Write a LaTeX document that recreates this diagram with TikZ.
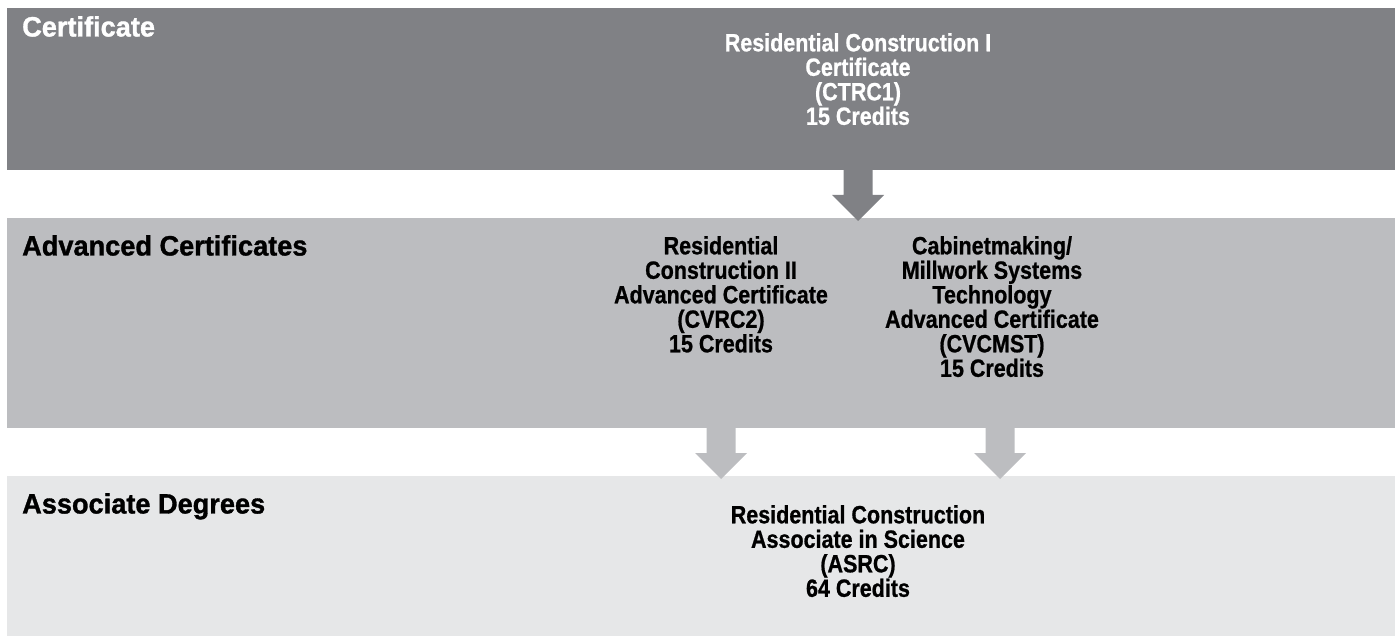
\documentclass[tikz,border=0pt]{standalone}
\usepackage{fontspec}
\setmainfont{Liberation Sans}
\newfontfamily\condfont{Liberation Sans}[FakeStretch=0.86,FakeBold=0.8]
\newfontfamily\headfont{Liberation Sans}[FakeStretch=0.97,FakeBold=1.2]
\usetikzlibrary{positioning}
\definecolor{darkband}{RGB}{128,129,133}
\definecolor{midband}{RGB}{188,189,192}
\definecolor{lightband}{RGB}{230,231,232}
\newcommand{\BandFont}{\headfont\bfseries\fontsize{28}{30}\selectfont}
\newcommand{\ProgFont}{\condfont\bfseries\fontsize{25}{24.5}\selectfont}
\newcommand{\BlockArrow}[2]{%
  \fill[#1] (#2) ++(-14.5,0) -- ++(0,25) -- ++(-11.5,0) -- ++(26,26)
    -- ++(26,-26) -- ++(-11.5,0) -- ++(0,-25) -- cycle;}

\begin{document}
\begin{tikzpicture}[x=1pt,y=-1pt,
  band/.style={fill=#1,inner sep=0,outer sep=0,anchor=north west,minimum width=1388pt},
  title/.style={anchor=north west,inner sep=0,font=\BandFont},
  prog/.style={anchor=north,inner sep=0,align=center,font=\ProgFont}]
  \useasboundingbox (0,0) rectangle (1395,636);

  % bands
  \node[band=darkband,  minimum height=162pt] (certband)  at (7,8)   {};
  \node[band=midband,   minimum height=210pt] (advband)   at (7,218) {};
  \node[band=lightband, minimum height=160pt] (assocband) at (7,476) {};

  \node[title, text=white] (certtitle)  at (22,16)  {Certificate};
  \node[title]             (advtitle)   at (22,235) {Advanced Certificates};
  \node[title]             (assoctitle) at (22,493) {Associate Degrees};

  % programs
  \node[prog, text=white] (ctrc)   at (858,33)  {Residential Construction I\\Certificate\\(CTRC1)\\15 Credits};
  \node[prog]             (cvrc)   at (721,236) {Residential\\Construction II\\Advanced Certificate\\(CVRC2)\\15 Credits};
  \node[prog]             (cvcmst) at (992,236) {Cabinetmaking/\\Millwork Systems\\Technology\\Advanced Certificate\\(CVCMST)\\15 Credits};
  \node[prog]             (asrc)   at (858,505) {Residential Construction\\Associate in Science\\(ASRC)\\64 Credits};

  % arrows
  \coordinate (ctrcdrop)   at (certband.south -| ctrc.north);
  \coordinate (cvrcdrop)   at (advband.south -| cvrc.north);
  \coordinate (cvcmstdrop) at (1000,428);
  \BlockArrow{darkband}{ctrcdrop}
  \BlockArrow{midband}{cvrcdrop}
  \BlockArrow{midband}{cvcmstdrop}
\end{tikzpicture}
\end{document}
